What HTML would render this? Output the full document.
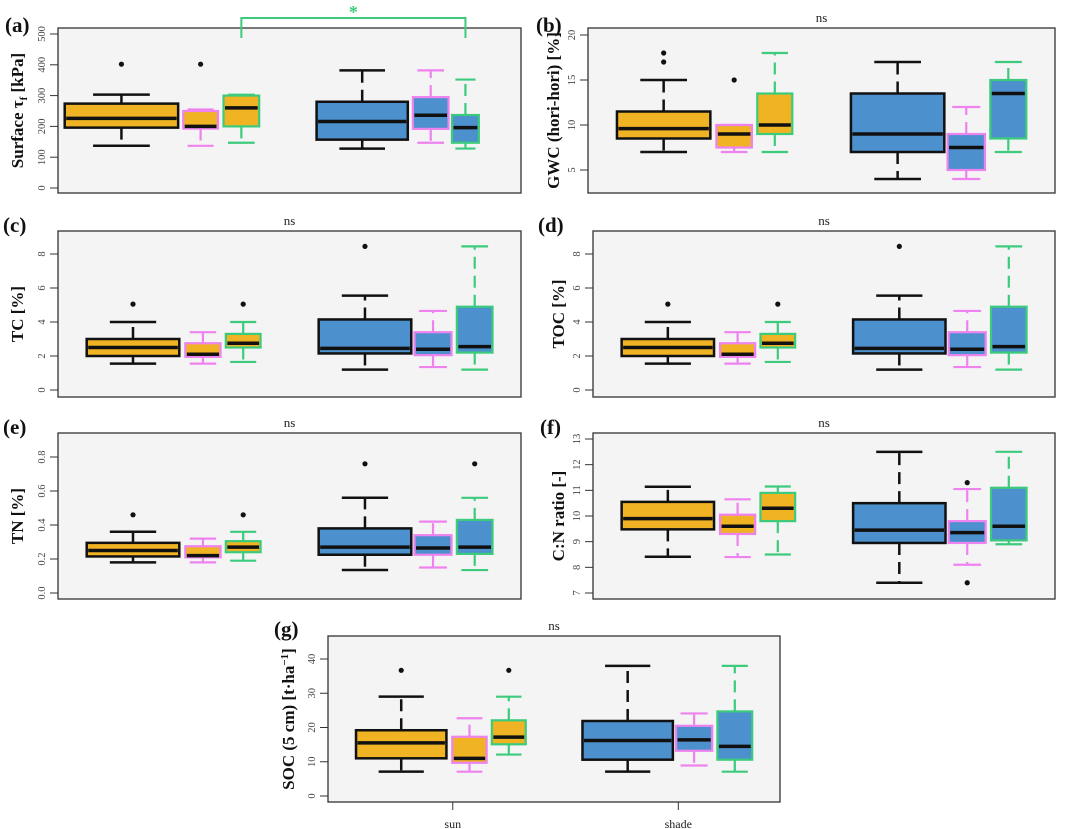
<!DOCTYPE html>
<html><head><meta charset="utf-8"><style>
html,body{margin:0;padding:0;background:#fff;}
svg{display:block;font-family:"Liberation Serif",serif;}
</style></head><body>
<svg id="fig" width="1065" height="829" viewBox="0 0 1065 829"></svg>
<script>
// order: sun-all, sun-pink, sun-green, shade-all, shade-pink, shade-green
const aMin=[137,137,147,128,147,128], aQ1=[196,193,200,157,192,147], aMed=[226,200,260,216,236,196], aQ3=[274,250,300,280,295,237], aMax=[303,255,303,382,382,352], aOut=[[402],[402],[],[],[],[]];
const bMin=[7,7,7,4,4,7], bQ1=[8.5,7.5,9,7,5,8.5], bMed=[9.6,9,10,9,7.5,13.5], bQ3=[11.5,10,13.5,13.5,9,15], bMax=[15,10,18,17,12,17], bOut=[[17,18],[15],[],[],[],[]];
const cMin=[1.55,1.55,1.65,1.2,1.35,1.2], cQ1=[2,1.95,2.5,2.15,2.05,2.2], cMed=[2.5,2.1,2.75,2.45,2.4,2.55], cQ3=[3,2.75,3.3,4.15,3.4,4.9], cMax=[4,3.4,4,5.55,4.65,8.45], cOut=[[5.05],[],[5.05],[8.45],[],[]];
const dMin=[1.55,1.55,1.65,1.2,1.35,1.2], dQ1=[2,1.95,2.5,2.15,2.05,2.2], dMed=[2.5,2.1,2.75,2.45,2.4,2.55], dQ3=[3,2.75,3.3,4.15,3.4,4.9], dMax=[4,3.4,4,5.55,4.65,8.45], dOut=[[5.05],[],[5.05],[8.45],[],[]];
const eMin=[.18,.18,.19,.135,.15,.135], eQ1=[.215,.21,.24,.225,.225,.23], eMed=[.25,.22,.27,.27,.265,.27], eQ3=[.295,.275,.305,.38,.34,.43], eMax=[.36,.32,.36,.56,.42,.56], eOut=[[.46],[],[.46],[.76],[],[.76]];
const fMin=[8.41,8.4,8.5,7.4,8.1,8.9], fQ1=[9.48,9.3,9.8,8.95,8.95,9.05], fMed=[9.9,9.6,10.3,9.45,9.35,9.6], fQ3=[10.55,10.05,10.9,10.5,9.8,11.1], fMax=[11.14,10.65,11.15,12.5,11.05,12.5], fOut=[[],[],[],[],[11.3,7.4],[]];
const gMin=[7.1,7.1,12.1,7.1,8.9,7.1], gQ1=[11,9.7,15.1,10.6,13.2,10.6], gMed=[15.5,11,17.2,16.2,16.4,14.5], gQ3=[19.2,17.3,22.1,21.9,20.5,24.7], gMax=[29,22.7,29,38,24.1,38], gOut=[[36.7],[],[36.7],[],[],[]];
const aTicks=[0,100,200,300,400,500], bTicks=[5,10,15,20], cTicks=[0,2,4,6,8], dTicks=[0,2,4,6,8], eTicks=["0.0","0.2","0.4","0.6","0.8"], fTicks=[7,8,9,10,11,12,13], gTicks=[0,10,20,30,40];
const groups=["sun","shade"];

const NS="http://www.w3.org/2000/svg";
const svg=document.getElementById('fig');
function mk(tag,attrs,parent){const e=document.createElementNS(NS,tag);for(const k in attrs)e.setAttribute(k,attrs[k]);(parent||svg).appendChild(e);return e;}
const FILLS=["#F0B323","#F0B323","#F0B323","#4C90CD","#4C90CD","#4C90CD"];
const STROKES=["#111","#EE82EE","#3CCB7C","#111","#EE82EE","#3CCB7C"];
const defCen=[0.162,0.313,0.40,0.663,0.81,0.90], defW=[0.2,0.076,0.075,0.2,0.08,0.077];
const aCen=[0.137,0.308,0.396,0.657,0.805,0.88], aW=[0.245,0.075,0.077,0.197,0.077,0.058];
const P=[
 {id:'a',x0:58,x1:521,y0:28,y1:193,v0:0,p0:188,v1:500,p1:34,ticks:aTicks,mn:aMin,q1:aQ1,md:aMed,q3:aQ3,mx:aMax,out:aOut,lab:'Surface τ',sub:'f',lab2:' [kPa]',lx:23,lt:[5,32],ns:false,cen:aCen,w:aW},
 {id:'b',x0:588,x1:1055,y0:28,y1:193,v0:20,p0:35,v1:5,p1:170,ticks:bTicks,mn:bMin,q1:bQ1,md:bMed,q3:bQ3,mx:bMax,out:bOut,lab:'GWC (hori-hori) [%]',lx:559,lt:[536,32],ns:true},
 {id:'c',x0:58,x1:521,y0:231,y1:397,v0:0,p0:390,v1:8,p1:254,ticks:cTicks,mn:cMin,q1:cQ1,md:cMed,q3:cQ3,mx:cMax,out:cOut,lab:'TC [%]',lx:23,lt:[3,232],ns:true},
 {id:'d',x0:593,x1:1055,y0:231,y1:397,v0:0,p0:390,v1:8,p1:254,ticks:dTicks,mn:dMin,q1:dQ1,md:dMed,q3:dQ3,mx:dMax,out:dOut,lab:'TOC [%]',lx:564,lt:[538,232],ns:true},
 {id:'e',x0:58,x1:521,y0:433,y1:599,v0:0,p0:593,v1:0.8,p1:457,ticks:eTicks,mn:eMin,q1:eQ1,md:eMed,q3:eQ3,mx:eMax,out:eOut,lab:'TN [%]',lx:23,lt:[3,434],ns:true},
 {id:'f',x0:593,x1:1055,y0:433,y1:599,v0:7,p0:593,v1:13,p1:439,ticks:fTicks,mn:fMin,q1:fQ1,md:fMed,q3:fQ3,mx:fMax,out:fOut,lab:'C:N ratio [-]',lx:564,lt:[540,434],ns:true},
 {id:'g',x0:328,x1:780,y0:636,y1:802,v0:0,p0:796,v1:40,p1:659,ticks:gTicks,mn:gMin,q1:gQ1,md:gMed,q3:gQ3,mx:gMax,out:gOut,lab:'SOC (5 cm) [t·ha',sup:'−1',lab2:']',lx:294,lt:[274,636],ns:true,xaxis:true}
];
P.forEach(p=>{
 const y=v=>p.p0+(Number(v)-p.v0)*(p.p1-p.p0)/(p.v1-p.v0);
 const W=p.x1-p.x0;
 const cen=p.cen||defCen, wd=p.w||defW;
 const g=mk('g',{});
 
 
 const bg=mk('rect',{x:p.x0,y:p.y0,width:W,height:p.y1-p.y0,fill:'#F4F4F4',stroke:'#333','stroke-width':1.3},g);
 
 
 const lt=mk('text',{x:p.lt[0],y:p.lt[1],'font-size':21,'font-weight':'bold',fill:'#111'},g);
 lt.textContent='('+p.id+')';
 
 
 if(p.ns){const t=mk('text',{x:(p.x0+p.x1)/2,y:p.y0-6,'font-size':13,'text-anchor':'middle',fill:'#222'},g);t.textContent='ns';
  
  }
 const ax=mk('g',{},g);
 
 
 p.ticks.forEach(tv=>{const ty=y(tv);
  mk('line',{x1:p.x0-8,x2:p.x0,y1:ty,y2:ty,stroke:'#333','stroke-width':1},ax);
  const t=mk('text',{x:0,y:0,'font-size':10.5,fill:'#444','text-anchor':'middle',transform:`translate(${p.x0-13},${ty}) rotate(-90)`},ax);
  t.textContent=String(tv);
  
  
 });
 const yl=mk('text',{x:0,y:0,'font-size':17,'font-weight':'bold',fill:'#111','text-anchor':'middle',transform:`translate(${p.lx},${(p.y0+p.y1)/2}) rotate(-90)`},g);
 
 
 yl.appendChild(document.createTextNode(p.lab));
 if(p.sub){const s=mk('tspan',{'font-size':11,dy:4},yl);s.textContent=p.sub;const r=mk('tspan',{dy:-4},yl);r.textContent=p.lab2;}
 if(p.sup){const s=mk('tspan',{'font-size':11,dy:-6},yl);s.textContent=p.sup;const r=mk('tspan',{dy:6},yl);r.textContent=p.lab2;}
 for(let i=0;i<6;i++){
  const cx=p.x0+cen[i]*W, bw=wd[i]*W, st=STROKES[i], black=(i%3===0);
  const cw=black?bw*0.5:bw*0.75;
  const bg2=mk('g',{},g);
  
  
  const lw=black?2.5:2.2;
  mk('line',{x1:cx,x2:cx,y1:y(p.q3[i]),y2:y(p.mx[i]),stroke:st,'stroke-width':lw,'stroke-dasharray':'12,7'},bg2);
  mk('line',{x1:cx,x2:cx,y1:y(p.q1[i]),y2:y(p.mn[i]),stroke:st,'stroke-width':lw,'stroke-dasharray':'12,7'},bg2);
  mk('line',{x1:cx-cw/2,x2:cx+cw/2,y1:y(p.mx[i]),y2:y(p.mx[i]),stroke:st,'stroke-width':lw},bg2);
  mk('line',{x1:cx-cw/2,x2:cx+cw/2,y1:y(p.mn[i]),y2:y(p.mn[i]),stroke:st,'stroke-width':lw},bg2);
  mk('rect',{x:cx-bw/2,y:y(p.q3[i]),width:bw,height:y(p.q1[i])-y(p.q3[i]),fill:FILLS[i],stroke:st,'stroke-width':lw},bg2);
  mk('line',{x1:cx-bw/2+1.5,x2:cx+bw/2-1.5,y1:y(p.md[i]),y2:y(p.md[i]),stroke:'#111','stroke-width':3.5},bg2);
  p.out[i].forEach(o=>mk('circle',{cx:cx,cy:y(o),r:2.6,fill:'#111'},bg2));
 }
 if(p.xaxis){
  const gx=[p.x0+0.276*W,p.x0+0.775*W];
  groups.forEach((nm,k)=>{
   mk('line',{x1:gx[k],x2:gx[k],y1:p.y1,y2:p.y1+8,stroke:'#333','stroke-width':1},g);
   const t=mk('text',{x:gx[k],y:p.y1+26,'font-size':12,'text-anchor':'middle',fill:'#222'},g);
   t.textContent=nm;
   
   
  });
 }
 if(p.id==='a'){
  const x1=p.x0+cen[2]*W, x2=p.x0+cen[5]*W;
  const br=mk('polyline',{points:`${x1},38 ${x1},18 ${x2},18 ${x2},38`,fill:'none',stroke:'#3CCB7C','stroke-width':2},g);
  
  
  const st=mk('text',{x:(x1+x2)/2,y:18,'font-size':18,'font-weight':'bold','text-anchor':'middle',fill:'#3CCB7C'},g);
  st.textContent='*';
  
  
 }
});
</script>
</body></html>
